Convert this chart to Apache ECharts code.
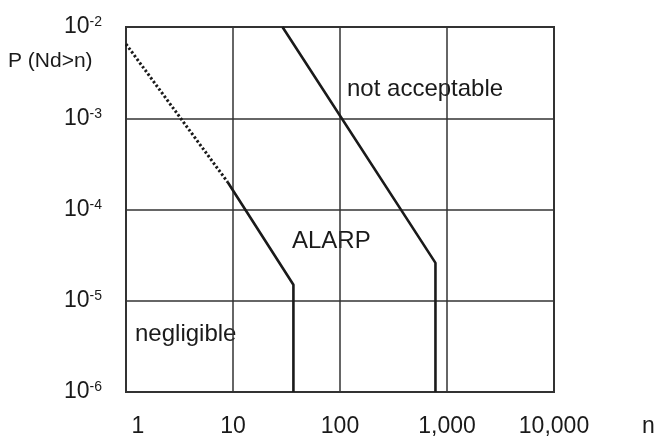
<!DOCTYPE html>
<html>
<head>
<meta charset="utf-8">
<script src="https://cdn.jsdelivr.net/npm/echarts@6/dist/echarts.min.js"></script>
<style>html,body{margin:0;padding:0;background:#fff}#c{width:655px;height:437px}</style>
</head>
<body>
<div id="c"></div>
<script>
// Tick labels
var xTickValues = [1, 10, 100, 1000, 10000];
var xTickLabels = ['1', '10', '100', '1,000', '10,000'];
var yTickExponents = [-6, -5, -4, -3, -2];

// Boundary lines [n, P]
var notAcceptableLine = [[29, 1e-2], [780, 2.6e-5], [780, 1e-6]];
var negligibleDotted = [[1, 6.5e-3], [8.9, 2.0e-4]];
var negligibleSolid = [[8.9, 2.0e-4], [36.7, 1.5e-5], [36.7, 1e-6]];

// Region labels
var regionLabels = ['not acceptable', 'ALARP', 'negligible'];

var FONT = 'Liberation Sans, Arial, sans-serif';
var TXT = '#1a1a1a';
var chart = echarts.init(document.getElementById('c'));

function xLabel(v) {
  var i = xTickValues.indexOf(Math.round(v));
  if (i < 0) return '';
  if (i === 0) return '{one|' + xTickLabels[i] + '}';
  return xTickLabels[i];
}
function yLabel(v) {
  var e = Math.round(Math.log10(v));
  if (yTickExponents.indexOf(e) < 0) return '';
  return '{b|10}{s|' + e + '}';
}

chart.setOption({
  animation: false,
  grid: { left: 126, top: 27, right: 101, bottom: 45, show: true, borderColor: '#333', borderWidth: 2,
    containLabel: false, outerBoundsMode: 'none' },
  xAxis: {
    type: 'log', logBase: 10, min: 1, max: 10000,
    name: 'n', nameLocation: 'end', nameGap: 88,
    nameTextStyle: { fontFamily: FONT, fontSize: 23, color: TXT, verticalAlign: 'top', padding: [23, 0, 0, 0] },
    axisLine: { show: false }, axisTick: { show: false },
    axisLabel: { formatter: xLabel, margin: 23, color: TXT, fontFamily: FONT, fontSize: 23,
      rich: { one: { fontFamily: FONT, fontSize: 23, color: TXT, padding: [0, 0, 0, 24] } } },
    splitLine: { show: true, lineStyle: { color: '#333', width: 1.5 } },
    minorTick: { show: false }, minorSplitLine: { show: false }
  },
  yAxis: {
    type: 'log', logBase: 10, min: 1e-6, max: 1e-2,
    axisLine: { show: false }, axisTick: { show: false },
    axisLabel: { formatter: yLabel, margin: 24, color: TXT,
      rich: {
        b: { fontFamily: FONT, fontSize: 23, color: TXT },
        s: { fontFamily: FONT, fontSize: 14, color: TXT, padding: [0, 0, 9, 0] }
      } },
    splitLine: { show: true, lineStyle: { color: '#333', width: 1.5 } }
  },
  graphic: [
    { type: 'text', left: 8, top: 51, style: { text: 'P (Nd>n)', fontFamily: FONT, fontSize: 21, fill: TXT } },
    { type: 'text', left: 347, top: 77, style: { text: regionLabels[0], fontFamily: FONT, fontSize: 24, fill: TXT } },
    { type: 'text', left: 292, top: 229, style: { text: regionLabels[1], fontFamily: FONT, fontSize: 24, fill: TXT } },
    { type: 'text', left: 135, top: 322, style: { text: regionLabels[2], fontFamily: FONT, fontSize: 24, fill: TXT } }
  ],
  series: [
    { type: 'line', data: notAcceptableLine, symbol: 'none', silent: true,
      lineStyle: { color: '#1a1a1a', width: 2.6 } },
    { type: 'line', data: negligibleDotted, symbol: 'none', silent: true,
      lineStyle: { color: '#1a1a1a', width: 3, type: [2.4, 2.2] } },
    { type: 'line', data: negligibleSolid, symbol: 'none', silent: true,
      lineStyle: { color: '#1a1a1a', width: 2.6 } }
  ]
});
</script>
</body>
</html>
